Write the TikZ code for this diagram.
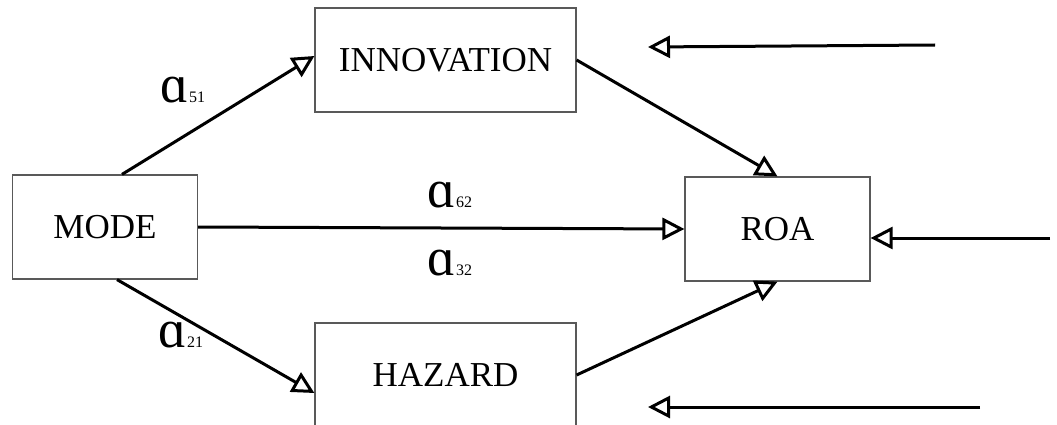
\documentclass[tikz,border=0pt]{standalone}
\usepackage{fontspec}
\setmainfont{Liberation Serif}
\usetikzlibrary{arrows.meta}
\tikzset{
	box/.style={draw=black!65, line width=1.2pt, inner sep=0pt, font=\fontsize{35}{35}\selectfont},
	link/.style={line width=3pt, -{Triangle[open, length=22pt, width=22pt, line width=3pt]}},
}
\newcommand{\coef}[1]{{\fontsize{54}{54}\selectfont ɑ}{\fontsize{16}{16}\selectfont #1}}
\begin{document}
\begin{tikzpicture}[x=1pt, y=-1pt]
	\clip (0,0) rectangle (1057,425);
	% boxes
	\node[box, minimum width=185pt, minimum height=104pt] (mode)   at (105,227)   {MODE};
	\node[box, minimum width=261pt, minimum height=104pt] (innov)  at (445.5,60)  {INNOVATION};
	\node[box, minimum width=185pt, minimum height=104pt] (roa)    at (777.5,229) {ROA};
	\node[box, minimum width=261pt, minimum height=104pt] (hazard) at (445.5,375) {HAZARD};
	% free ends
	\coordinate (intop) at (935,45);
	\coordinate (outtop) at (648,47);
	\coordinate (inmid) at (1050,238);
	\coordinate (inbot) at (980,407);
	\coordinate (outbot) at (648,407);
	% links
	\draw[link] ([xshift=17pt]mode.north) -- ([yshift=4pt]innov.west);
	\draw[link] (mode.east) -- (roa.west);
	\draw[link] ([xshift=12pt]mode.south) -- ([yshift=-18pt]hazard.west);
	\draw[link] (innov.east) -- (roa.north);
	\draw[link] (hazard.east) -- (roa.south);
	\draw[link] (intop) -- (outtop);
	\draw[link] (inmid) -- (inmid -| roa.east);
	\draw[link] (inbot) -- (outbot);
	% coefficients
	\node (a51) at (183,90)  {\coef{51}};
	\node (a62) at (450,195) {\coef{62}};
	\node (a32) at (450,263) {\coef{32}};
	\node (a21) at (181,335) {\coef{21}};
\end{tikzpicture}
\end{document}
